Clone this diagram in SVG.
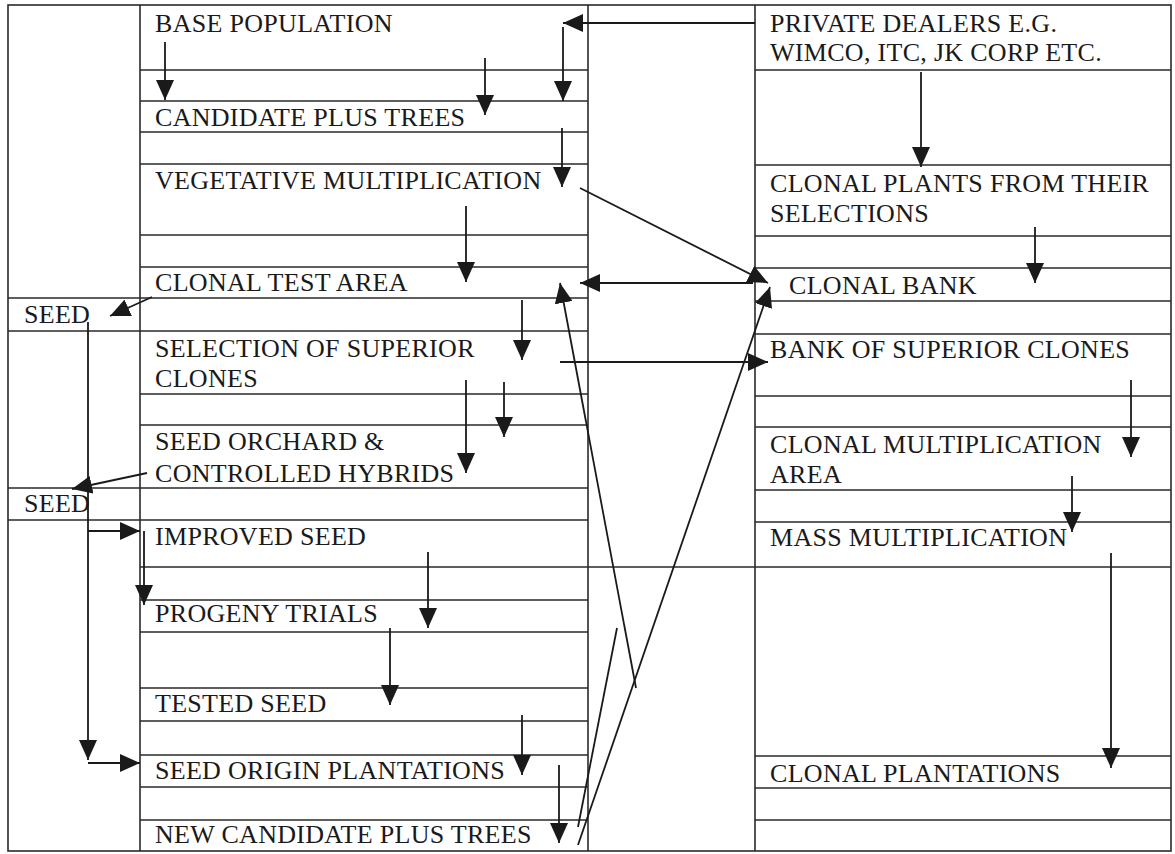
<svg xmlns="http://www.w3.org/2000/svg" width="1175" height="854" viewBox="0 0 1175 854">
<style>
.t{font-family:"Liberation Serif","Times New Roman",serif;font-size:26px;letter-spacing:0.3px;fill:#1a1a1a}
.g{stroke:#2a2a2a;stroke-width:1.6;fill:none}
.c{stroke:#1a1a1a;stroke-width:1.8;fill:none;marker-end:url(#ah)}
.p{stroke:#1a1a1a;stroke-width:1.8;fill:none}
</style>
<defs>
<marker id="ah" markerUnits="userSpaceOnUse" markerWidth="20" markerHeight="18" refX="20" refY="9" orient="auto" viewBox="0 0 20 18">
<path d="M0,0 L20,9 L0,18 Z" fill="#1a1a1a"/>
</marker>
</defs>
<rect width="1175" height="854" fill="#ffffff"/>
<g id="grid" class="g">
<rect x="8" y="5" width="1163" height="846"/>
<line x1="140" y1="5" x2="140" y2="851"/>
<line x1="588" y1="5" x2="588" y2="851"/>
<line x1="755" y1="5" x2="755" y2="851"/>
<path d="M140,70 H588 M140,101 H588 M140,132 H588 M140,164 H588 M140,235 H588 M140,267 H588 M8,298 H588 M8,331 H588 M140,394 H588 M140,425 H588 M8,488 H588 M8,520 H588 M140,567 H1171 M140,600 H588 M140,632 H588 M140,688 H588 M140,721 H588 M140,755 H588 M140,787 H588 M140,820 H588"/>
<path d="M755,70 H1171 M755,165 H1171 M755,236 H1171 M755,268 H1171 M755,301 H1171 M755,334 H1171 M755,396 H1171 M755,427 H1171 M755,490 H1171 M755,522 H1171 M755,756 H1171 M755,788 H1171 M755,820 H1171"/>
</g>
<g id="base-population"><text class="t" x="155" y="32">BASE POPULATION</text></g>
<g id="candidate-plus-trees"><text class="t" x="155" y="126">CANDIDATE PLUS TREES</text></g>
<g id="vegetative-multiplication"><text class="t" x="155" y="189">VEGETATIVE MULTIPLICATION</text></g>
<g id="clonal-test-area"><text class="t" x="155" y="291">CLONAL TEST AREA</text></g>
<g id="seed-1"><text class="t" x="24" y="323">SEED</text></g>
<g id="selection-superior-clones"><text class="t" x="155" y="357">SELECTION OF SUPERIOR</text><text class="t" x="155" y="387">CLONES</text></g>
<g id="seed-orchard"><text class="t" x="155" y="450">SEED ORCHARD &amp;</text><text class="t" x="155" y="482">CONTROLLED HYBRIDS</text></g>
<g id="seed-2"><text class="t" x="24" y="512">SEED</text></g>
<g id="improved-seed"><text class="t" x="155" y="545">IMPROVED SEED</text></g>
<g id="progeny-trials"><text class="t" x="155" y="622">PROGENY TRIALS</text></g>
<g id="tested-seed"><text class="t" x="155" y="712">TESTED SEED</text></g>
<g id="seed-origin-plantations"><text class="t" x="155" y="779">SEED ORIGIN PLANTATIONS</text></g>
<g id="new-candidate-plus-trees"><text class="t" x="155" y="843">NEW CANDIDATE PLUS TREES</text></g>
<g id="private-dealers"><text class="t" x="770" y="32">PRIVATE DEALERS E.G.</text><text class="t" x="770" y="61">WIMCO, ITC, JK CORP ETC.</text></g>
<g id="clonal-plants"><text class="t" x="770" y="192">CLONAL PLANTS FROM THEIR</text><text class="t" x="770" y="222">SELECTIONS</text></g>
<g id="clonal-bank"><text class="t" x="789" y="294">CLONAL BANK</text></g>
<g id="bank-superior-clones"><text class="t" x="770" y="358">BANK OF SUPERIOR CLONES</text></g>
<g id="clonal-multiplication-area"><text class="t" x="770" y="453">CLONAL MULTIPLICATION</text><text class="t" x="770" y="483">AREA</text></g>
<g id="mass-multiplication"><text class="t" x="770" y="546">MASS MULTIPLICATION</text></g>
<g id="clonal-plantations"><text class="t" x="770" y="782">CLONAL PLANTATIONS</text></g>
<g id="connectors">
<path class="c" d="M755,23 H563"/>
<path class="c" d="M563,27 V101"/>
<path class="c" d="M165,42 V100"/>
<path class="c" d="M485,58 V115"/>
<path class="c" d="M562,128 V187"/>
<path class="c" d="M466,206 V282"/>
<path class="c" d="M580,188 L768,283"/>
<path class="c" d="M753,283 H580"/>
<path class="c" d="M636,688 L560,283"/>
<path class="c" d="M578,845 L770,287"/>
<path class="p" d="M617,628 L578,827"/>
<path class="c" d="M152,297 L110,316"/>
<path class="c" d="M522,300 V360"/>
<path class="c" d="M560,362 H768"/>
<path class="c" d="M466,380 V473"/>
<path class="c" d="M504,382 V437"/>
<path class="c" d="M147,473 L72,489"/>
<path class="c" d="M88,322 V760"/>
<path class="c" d="M88,763 H140"/>
<path class="c" d="M88,531 H140"/>
<path class="c" d="M144,531 V605"/>
<path class="c" d="M428,552 V628"/>
<path class="c" d="M390,628 V705"/>
<path class="c" d="M522,715 V775"/>
<path class="c" d="M559,765 V843"/>
<path class="c" d="M921,72 V167"/>
<path class="c" d="M1035,227 V283"/>
<path class="c" d="M1131,380 V457"/>
<path class="c" d="M1072,476 V532"/>
<path class="c" d="M1111,553 V768"/>
</g>
</svg>
